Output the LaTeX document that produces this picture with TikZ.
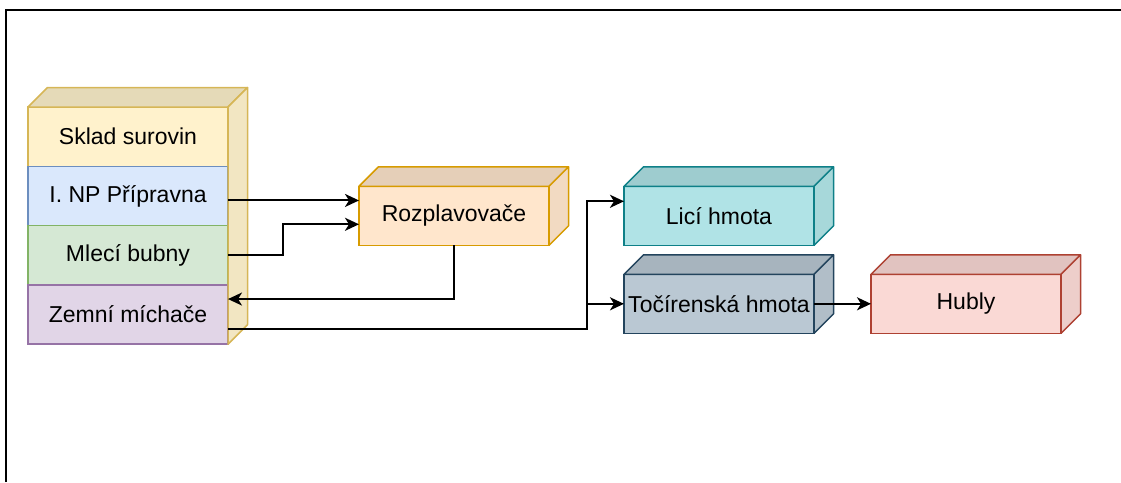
\documentclass[tikz,border=0pt]{standalone}
\usepackage{fontspec}
\setmainfont{Liberation Sans}
\usetikzlibrary{positioning}
\usetikzlibrary{calc}
\usetikzlibrary{arrows.meta}

\definecolor{yfill}{HTML}{FFF2CC}
\definecolor{yline}{HTML}{D6B656}
\definecolor{bfill}{HTML}{DAE8FC}
\definecolor{bline}{HTML}{6C8EBF}
\definecolor{gfill}{HTML}{D5E8D4}
\definecolor{gline}{HTML}{82B366}
\definecolor{pfill}{HTML}{E1D5E7}
\definecolor{pline}{HTML}{9673A6}
\definecolor{ofill}{HTML}{FFE6CC}
\definecolor{oline}{HTML}{D79B00}
\definecolor{cfill}{HTML}{B0E3E6}
\definecolor{cline}{HTML}{0E8088}
\definecolor{sfill}{HTML}{BAC8D3}
\definecolor{sline}{HTML}{23445D}
\definecolor{rfill}{HTML}{FAD9D5}
\definecolor{rline}{HTML}{AE4132}

\begin{document}
\begin{tikzpicture}[
        x=1pt, y=1pt,
        every node/.style={font=\fontsize{23}{27}\selectfont},
        layer/.style={draw, line width=1.5pt, minimum width=200pt, minimum height=59.3pt, inner sep=0pt, outer sep=0pt},
        cube/.style={draw, line width=1.5pt, minimum width=190pt, minimum height=59pt, inner sep=0pt, outer sep=0pt},
        face/.style={line width=1.5pt, line join=round},
        arrow/.style={-{Stealth[length=14pt,width=13pt,inset=4pt]}, line width=2pt}
    ]
        \useasboundingbox (0,0) rectangle (1121,-482);
        \draw[line width=2.5pt] (6,-482) -- (6,-10) -- (1121,-10);

        % Stack of departments
        \node[layer, fill=yfill, draw=yline] (sklad) at (128,-136.65) {Sklad surovin};
        \node[layer, fill=bfill, draw=bline, below=0pt of sklad] (pripravna) {I. NP Přípravna};
        \node[layer, fill=gfill, draw=gline, below=0pt of pripravna] (mleci) {Mlecí bubny};
        \node[layer, fill=pfill, draw=pline, below=0pt of mleci] (zemni) {Zemní míchače};

        % Processing
        \node[cube, fill=ofill, draw=oline, below right=20pt and 131pt of sklad.south east, anchor=north west] (rozp) {Rozplavovače};
        \node[cube, fill=cfill, draw=cline, right=75pt of rozp] (lici) {Licí hmota};
        \node[cube, fill=sfill, draw=sline, below=29pt of lici] (toc) {Točírenská hmota};
        \node[cube, fill=rfill, draw=rline, right=57pt of toc] (hubly) {Hubly};

        % 3D faces
        \foreach \a/\b/\c/\l in {sklad/zemni/yfill/yline, rozp/rozp/ofill/oline, lici/lici/cfill/cline, toc/toc/sfill/sline, hubly/hubly/rfill/rline} {
            \filldraw[face, fill=\c!90!black, draw=\l] (\a.north west) -- ++(19.5,19.5) -- ($(\a.north east)+(19.5,19.5)$) -- (\a.north east) -- cycle;
            \filldraw[face, fill=\c!95!black, draw=\l] (\a.north east) -- ++(19.5,19.5) -- ($(\b.south east)+(19.5,19.5)$) -- (\b.south east) -- cycle;
        }

        % Flows
        \draw[arrow] ([yshift=-4.5pt]pripravna.east) -- ([yshift=-4.5pt]pripravna.east -| rozp.west);
        \draw[arrow] (mleci.east) -- ++(55,0) |- ([yshift=-8.5pt]rozp.west);
        \draw[arrow] (rozp.south) |- ([yshift=15.5pt]zemni.east);
        \draw[arrow] ([yshift=-14.5pt]zemni.east) -| ([xshift=-37pt,yshift=14.5pt]lici.west) -- ([yshift=14.5pt]lici.west);
        \draw[arrow] ([xshift=-37pt]toc.west) -- (toc.west);
        \draw[arrow] (toc.east) -- (hubly.west);
    \end{tikzpicture}
\end{document}
